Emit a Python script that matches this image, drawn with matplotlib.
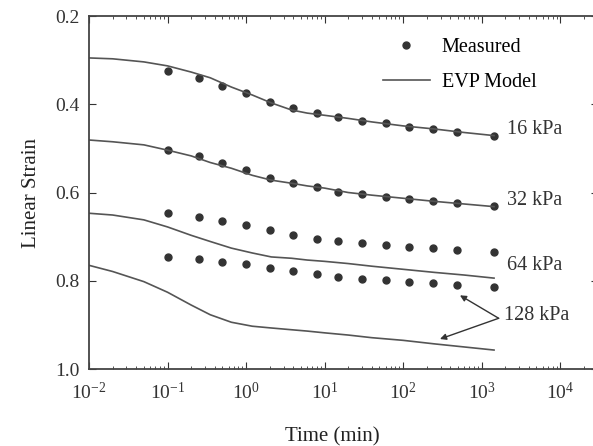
import matplotlib
matplotlib.use('Agg')
import matplotlib.pyplot as plt

plt.rcParams['font.family'] = ['Liberation Serif', 'DejaVu Serif']
plt.rcParams['mathtext.fontset'] = 'custom'
plt.rcParams['mathtext.rm'] = 'Liberation Serif'
plt.rcParams['mathtext.it'] = 'Liberation Serif:italic'

# measured points
t_meas = [0.1, 0.25, 0.5, 1, 2, 4, 8, 15, 30, 60, 120, 240, 480, 1440]
meas_16 = [0.325, 0.341, 0.359, 0.375, 0.395, 0.409, 0.420, 0.429, 0.438, 0.443, 0.452, 0.456, 0.463, 0.472]
meas_32 = [0.504, 0.517, 0.533, 0.549, 0.567, 0.579, 0.588, 0.599, 0.604, 0.610, 0.615, 0.619, 0.624, 0.631]
meas_64 = [0.647, 0.656, 0.665, 0.674, 0.685, 0.697, 0.706, 0.710, 0.715, 0.719, 0.724, 0.726, 0.731, 0.735]
meas_128 = [0.746, 0.751, 0.758, 0.762, 0.771, 0.778, 0.785, 0.792, 0.796, 0.799, 0.803, 0.805, 0.810, 0.815]

# EVP model curves
t_model = [0.01, 0.02, 0.05, 0.1, 0.2, 0.35, 0.65, 1.2, 2.1, 3.8, 6, 10, 20, 40, 100, 250, 600, 1440]
model_16 = [0.295, 0.297, 0.304, 0.313, 0.327, 0.340, 0.361, 0.379, 0.397, 0.413, 0.420, 0.425, 0.432, 0.440, 0.449, 0.456, 0.464, 0.471]
model_32 = [0.481, 0.485, 0.492, 0.504, 0.517, 0.532, 0.545, 0.561, 0.572, 0.579, 0.585, 0.590, 0.600, 0.606, 0.613, 0.620, 0.626, 0.632]
model_64 = [0.647, 0.651, 0.662, 0.678, 0.697, 0.711, 0.726, 0.737, 0.746, 0.749, 0.753, 0.756, 0.761, 0.767, 0.774, 0.781, 0.787, 0.794]
model_128 = [0.765, 0.779, 0.802, 0.826, 0.855, 0.877, 0.894, 0.903, 0.907, 0.911, 0.914, 0.918, 0.923, 0.929, 0.935, 0.943, 0.950, 0.957]

labels = ['16 kPa', '32 kPa', '64 kPa', '128 kPa']

fig = plt.figure(figsize=(5.93, 4.46), dpi=100)
ax = fig.add_axes([0.1501, 0.1726, 0.858, 0.7915])

dot = dict(ls='none', marker='o', ms=5, color='#333333')
line = dict(color='#555555', lw=1.2)

ax.plot(t_meas, meas_16, **dot, label='Measured')
ax.plot(t_meas, meas_32, **dot)
ax.plot(t_meas, meas_64, **dot)
ax.plot(t_meas, meas_128, **dot)
ax.plot(t_model, model_16, **line, label='EVP Model')
ax.plot(t_model, model_32, **line)
ax.plot(t_model, model_64, **line)
ax.plot(t_model, model_128, **line)

ax.set_xscale('log')
ax.set_xlim(1e-2, 10 ** 4.48)
ax.set_ylim(1.0, 0.2)
ax.set_yticks([0.2, 0.4, 0.6, 0.8, 1.0])
ax.set_yticklabels(['0.2', '0.4', '0.6', '0.8', '1.0'])
ax.set_xticks([1e-2, 1e-1, 1, 1e1, 1e2, 1e3, 1e4])

ax.tick_params(which='both', direction='in', top=True, right=True, labelsize=14, colors='#333333')
ax.tick_params(axis='x', which='major', length=5, pad=9)
ax.tick_params(axis='y', which='major', length=5, pad=7)
ax.tick_params(which='minor', length=2)
for s in ax.spines.values():
    s.set_color('#444444')
    s.set_linewidth(1.3)

ax.set_xlabel('Time (min)', fontsize=15, color='#222222')
ax.xaxis.set_label_coords(0.479, -0.165)
ax.set_ylabel('Linear Strain', fontsize=15, color='#222222', labelpad=10)

ax.legend(loc='upper right', bbox_to_anchor=(0.915, 0.99), frameon=False, fontsize=14.5,
          handlelength=2.3, labelspacing=0.8, handletextpad=0.6)

ax.text(2100, 0.458, labels[0], fontsize=14.5, va='center', color='#333333')
ax.text(2100, 0.617, labels[1], fontsize=14.5, va='center', color='#333333')
ax.text(2100, 0.765, labels[2], fontsize=14.5, va='center', color='#333333')
ax.text(1950, 0.878, labels[3], fontsize=14.5, va='center', color='#333333')
arr = dict(arrowstyle='-|>', color='#333333', lw=1.0, mutation_scale=9, shrinkA=0, shrinkB=0)
ax.annotate('', xy=(530, 0.833), xytext=(1650, 0.885), arrowprops=arr)
ax.annotate('', xy=(295, 0.932), xytext=(1650, 0.885), arrowprops=arr)

fig.savefig('out.png', dpi=100)
